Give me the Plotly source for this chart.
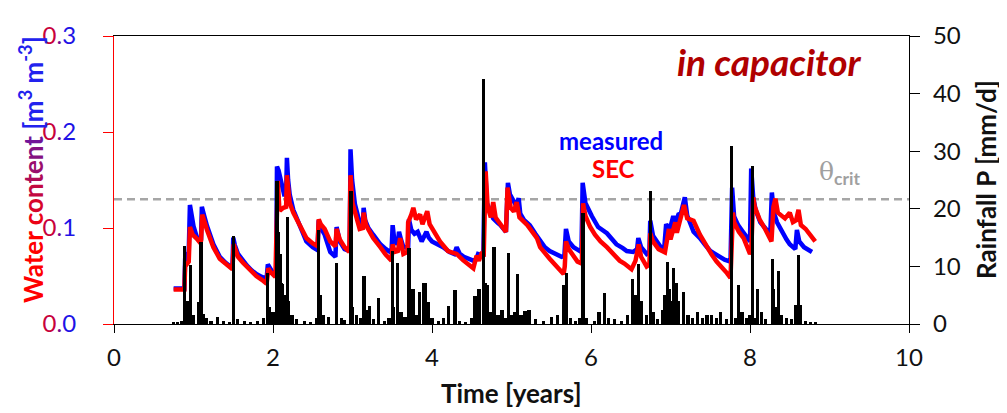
import plotly.graph_objects as go

# ---------------- data ----------------
theta_crit = 0.13

t_meas = [0.75, 0.885, 0.895, 0.94, 0.955, 0.975, 1.00, 1.04, 1.08, 1.095, 1.105, 1.13, 1.17, 1.25, 1.33, 1.40, 1.49,
          1.50, 1.52, 1.56, 1.62, 1.67, 1.73, 1.79, 1.86, 1.92, 1.935, 1.96, 2.00, 2.04, 2.05, 2.07, 2.10, 2.12,
          2.14, 2.165, 2.175, 2.19, 2.21, 2.255, 2.30, 2.34, 2.42, 2.50, 2.56, 2.575, 2.60, 2.65, 2.72, 2.785,
          2.80, 2.84, 2.90, 2.965, 2.975, 2.995, 3.03, 3.07, 3.10, 3.13, 3.14, 3.16, 3.20, 3.26, 3.35, 3.42,
          3.49, 3.505, 3.53, 3.57, 3.585, 3.61, 3.64, 3.70, 3.71, 3.74, 3.78, 3.82, 3.87, 3.93, 3.96, 4.00,
          4.08, 4.14, 4.22, 4.28, 4.31, 4.35, 4.40, 4.46, 4.52, 4.56, 4.58, 4.62, 4.645, 4.665, 4.69, 4.73,
          4.77, 4.83, 4.86, 4.93, 4.955, 4.98, 5.02, 5.06, 5.09, 5.11, 5.16, 5.23, 5.30, 5.36, 5.42, 5.48,
          5.56, 5.63, 5.665, 5.685, 5.72, 5.78, 5.82, 5.88, 5.895, 5.93, 6.01, 6.09, 6.20, 6.26, 6.32, 6.40,
          6.45, 6.53, 6.58, 6.595, 6.63, 6.70, 6.735, 6.745, 6.78, 6.87, 6.92, 6.945, 6.99, 7.035, 7.06, 7.10,
          7.13, 7.18, 7.21, 7.29, 7.37, 7.44, 7.50, 7.56, 7.62, 7.68, 7.755, 7.775, 7.80, 7.85, 7.91, 7.96,
          8.00, 8.015, 8.04, 8.07, 8.13, 8.20, 8.255, 8.275, 8.30, 8.34, 8.40, 8.46, 8.50, 8.57, 8.59, 8.62,
          8.68, 8.78]
theta_meas = [0.037, 0.037, 0.068, 0.075, 0.124, 0.112, 0.102, 0.091, 0.086, 0.088, 0.122, 0.114, 0.102, 0.083, 0.070,
              0.064, 0.058, 0.090, 0.082, 0.073, 0.066, 0.061, 0.056, 0.052, 0.049, 0.047, 0.062, 0.058, 0.053,
              0.051, 0.164, 0.160, 0.150, 0.140, 0.135, 0.135, 0.173, 0.150, 0.135, 0.119, 0.110, 0.103, 0.086,
              0.080, 0.077, 0.108, 0.100, 0.093, 0.075, 0.070, 0.101, 0.086, 0.078, 0.076, 0.182, 0.150, 0.125,
              0.112, 0.103, 0.104, 0.121, 0.108, 0.100, 0.093, 0.083, 0.078, 0.074, 0.103, 0.084, 0.084, 0.096,
              0.088, 0.080, 0.080, 0.109, 0.098, 0.094, 0.096, 0.086, 0.096, 0.090, 0.086, 0.083, 0.080, 0.075,
              0.073, 0.080, 0.073, 0.070, 0.068, 0.066, 0.068, 0.073, 0.072, 0.070, 0.1685, 0.126, 0.118, 0.110,
              0.105, 0.103, 0.096, 0.147, 0.135, 0.128, 0.123, 0.131, 0.115, 0.108, 0.103, 0.094, 0.086, 0.080,
              0.076, 0.073, 0.070, 0.071, 0.099, 0.086, 0.080, 0.078, 0.075, 0.147, 0.126, 0.1125, 0.101, 0.0945,
              0.089, 0.083, 0.079, 0.076, 0.075, 0.078, 0.0895, 0.080, 0.073, 0.075, 0.1076, 0.092, 0.081, 0.078,
              0.104, 0.098, 0.1125, 0.105, 0.114, 0.115, 0.132, 0.113, 0.096, 0.0895, 0.082, 0.076, 0.073, 0.070,
              0.067, 0.065, 0.142, 0.112, 0.103, 0.096, 0.090, 0.086, 0.162, 0.132, 0.119, 0.106, 0.099, 0.093,
              0.137, 0.116, 0.106, 0.096, 0.088, 0.083, 0.078, 0.098, 0.086, 0.080, 0.075]

t_sec = [0.75, 0.885, 0.895, 0.94, 0.955, 0.99, 1.04, 1.08, 1.095, 1.11, 1.17, 1.25, 1.33, 1.40, 1.49, 1.505, 1.56,
         1.62, 1.68, 1.79, 1.86, 1.92, 1.94, 1.97, 2.03, 2.06, 2.08, 2.10, 2.13, 2.165, 2.175, 2.21, 2.255, 2.34,
         2.42, 2.50, 2.56, 2.575, 2.60, 2.65, 2.72, 2.785, 2.80, 2.84, 2.90, 2.96, 2.975, 3.00, 3.05, 3.09, 3.13,
         3.14, 3.17, 3.26, 3.35, 3.42, 3.49, 3.505, 3.53, 3.57, 3.60, 3.64, 3.69, 3.70, 3.74, 3.765, 3.80, 3.85,
         3.88, 3.94, 3.97, 4.02, 4.10, 4.20, 4.29, 4.31, 4.39, 4.45, 4.52, 4.56, 4.59, 4.63, 4.65, 4.675, 4.70,
         4.74, 4.77, 4.80, 4.87, 4.93, 4.95, 4.99, 5.03, 5.065, 5.10, 5.20, 5.32, 5.36, 5.48, 5.55, 5.61, 5.655,
         5.67, 5.685, 5.72, 5.78, 5.83, 5.885, 5.90, 5.93, 5.99, 6.05, 6.12, 6.20, 6.28, 6.36, 6.42, 6.51, 6.56,
         6.60, 6.63, 6.70, 6.735, 6.745, 6.78, 6.85, 6.93, 6.96, 6.98, 7.00, 7.04, 7.06, 7.08, 7.12, 7.17, 7.21,
         7.29, 7.37, 7.455, 7.52, 7.58, 7.64, 7.71, 7.755, 7.785, 7.80, 7.86, 7.92, 7.96, 8.00, 8.015, 8.04, 8.06,
         8.12, 8.19, 8.27, 8.295, 8.32, 8.35, 8.40, 8.44, 8.50, 8.54, 8.58, 8.61, 8.64, 8.70, 8.82]
theta_sec = [0.036, 0.036, 0.060, 0.065, 0.101, 0.093, 0.089, 0.085, 0.087, 0.114, 0.098, 0.080, 0.068, 0.063, 0.057,
             0.083, 0.070, 0.064, 0.059, 0.050, 0.046, 0.042, 0.058, 0.054, 0.049, 0.149, 0.120, 0.119, 0.121,
             0.122, 0.155, 0.126, 0.116, 0.103, 0.0895, 0.084, 0.081, 0.109, 0.104, 0.099, 0.086, 0.081, 0.099,
             0.088, 0.080, 0.075, 0.155, 0.126, 0.111, 0.099, 0.100, 0.116, 0.103, 0.0895, 0.080, 0.072, 0.066,
             0.083, 0.075, 0.076, 0.0895, 0.073, 0.075, 0.106, 0.114, 0.121, 0.109, 0.114, 0.104, 0.1175, 0.104,
             0.097, 0.086, 0.076, 0.073, 0.073, 0.0665, 0.062, 0.058, 0.071, 0.066, 0.075, 0.070, 0.159, 0.122,
             0.111, 0.127, 0.111, 0.103, 0.096, 0.142, 0.121, 0.117, 0.127, 0.111, 0.103, 0.0895, 0.080, 0.068,
             0.061, 0.055, 0.052, 0.060, 0.086, 0.078, 0.070, 0.065, 0.063, 0.1257, 0.1125, 0.101, 0.093, 0.086,
             0.080, 0.073, 0.066, 0.063, 0.057, 0.066, 0.083, 0.070, 0.060, 0.062, 0.0945, 0.086, 0.078, 0.0747,
             0.0895, 0.099, 0.088, 0.100, 0.106, 0.095, 0.110, 0.124, 0.110, 0.1076, 0.093, 0.080, 0.072, 0.065,
             0.060, 0.053, 0.048, 0.116, 0.106, 0.096, 0.0895, 0.080, 0.073, 0.075, 0.132, 0.122, 0.109, 0.099,
             0.086, 0.122, 0.1306, 0.116, 0.1125, 0.110, 0.116, 0.106, 0.108, 0.119, 0.103, 0.099, 0.086]

rain_t = [0.75, 0.80, 0.85, 0.89, 0.92, 0.965, 1.00, 1.06, 1.094, 1.12, 1.16, 1.22, 1.30, 1.38, 1.45, 1.50, 1.55,
          1.64, 1.72, 1.80, 1.88, 1.93, 1.96, 2.00, 2.05, 2.07, 2.09, 2.10, 2.12, 2.14, 2.16, 2.18, 2.20, 2.24,
          2.30, 2.40, 2.47, 2.55, 2.57, 2.60, 2.64, 2.70, 2.80, 2.86, 2.90, 2.98, 3.00, 3.05, 3.10, 3.145, 3.17,
          3.21, 3.26, 3.33, 3.40, 3.46, 3.50, 3.52, 3.57, 3.61, 3.66, 3.71, 3.76, 3.80, 3.84, 3.90, 3.92, 3.95,
          4.00, 4.08, 4.14, 4.21, 4.29, 4.35, 4.42, 4.50, 4.54, 4.59, 4.645, 4.67, 4.70, 4.74, 4.78, 4.83, 4.88,
          4.92, 4.96, 5.00, 5.04, 5.08, 5.12, 5.17, 5.22, 5.30, 5.40, 5.50, 5.58, 5.66, 5.69, 5.74, 5.80, 5.86,
          5.90, 5.94, 6.04, 6.10, 6.17, 6.22, 6.30, 6.38, 6.46, 6.52, 6.56, 6.60, 6.64, 6.70, 6.75, 6.79, 6.84,
          6.90, 6.93, 6.96, 6.99, 7.02, 7.04, 7.07, 7.10, 7.16, 7.22, 7.28, 7.34, 7.40, 7.46, 7.52, 7.58, 7.63,
          7.70, 7.77, 7.82, 7.86, 7.90, 7.96, 8.00, 8.03, 8.06, 8.09, 8.14, 8.20, 8.28, 8.30, 8.33, 8.36, 8.40,
          8.46, 8.52, 8.57, 8.61, 8.64, 8.70, 8.76, 8.82]
rain_mm = [0.3, 0.2, 0.5, 13.5, 4.0, 10.2, 1.5, 3.9, 14.3, 1.8, 1.0, 0.6, 1.2, 0.6, 0.4, 15.2, 0.8,
           0.6, 0.3, 0.5, 1.0, 8.9, 3.0, 2.0, 24.8, 16.0, 12.2, 7.2, 7.0, 5.0, 3.0, 18.6, 4.0, 1.5,
           0.8, 0.5, 0.3, 1.0, 16.3, 5.0, 1.5, 1.2, 10.6, 1.0, 0.7, 23.1, 3.0, 1.5, 1.0, 8.3, 2.5,
           3.1, 0.8, 4.5, 0.6, 1.0, 12.7, 3.0, 10.6, 2.0, 1.2, 13.2, 6.1, 1.5, 5.6, 7.2, 7.1, 3.9,
           1.0, 0.5, 1.0, 3.1, 5.9, 0.6, 0.4, 1.0, 4.8, 6.0, 42.6, 7.2, 6.7, 2.0, 13.3, 1.5, 2.5,
           1.0, 12.4, 1.5, 2.0, 8.6, 1.5, 2.2, 2.4, 0.8, 0.6, 1.2, 1.5, 6.7, 8.9, 1.0, 0.5, 1.0,
           19.3, 1.0, 0.5, 2.0, 5.3, 1.0, 0.8, 0.6, 1.5, 7.8, 5.0, 10.5, 4.0, 1.5, 23.1, 2.0, 0.8,
           2.5, 5.0, 10.8, 6.0, 4.0, 9.7, 7.2, 4.0, 5.6, 1.5, 1.0, 2.0, 1.0, 1.6, 1.5, 1.0, 2.0,
           0.8, 30.9, 1.0, 6.7, 2.0, 1.0, 1.5, 27.5, 1.0, 6.1, 2.0, 0.8, 11.2, 6.0, 3.0, 9.2, 1.5,
           1.0, 0.8, 3.3, 11.9, 3.3, 0.6, 0.3, 0.2]

x_ticks = [0, 2, 4, 6, 8, 10]
y_ticks = [0.0, 0.1, 0.2, 0.3]
y_tick_labels = ["0.0", "0.1", "0.2", "0.3"]
y2_ticks = [0, 10, 20, 30, 40, 50]

# ---------------- styling helpers ----------------
FONT = "Lato"

def mix(c1, c2, f):
    return "#%02x%02x%02x" % tuple(int(round(a + (b - a) * f)) for a, b in zip(c1, c2))

RED = (220, 0, 40)
BLUE = (20, 20, 240)

def grad_label(s):
    n = len(s)
    out = []
    for i, ch in enumerate(s):
        f = 0.1 + 0.85 * i / max(n - 1, 1)
        out.append('<span style="color:%s">%s</span>' % (mix(RED, BLUE, f), ch))
    return "".join(out)

def grad_title():
    word = "Water content "
    out = []
    for i, ch in enumerate(word):
        f = 0.0 if i < 5 else min(1.0, (i - 5) / 9.0 * 0.85)
        out.append('<span style="color:%s">%s</span>' % (mix((255, 0, 0), (40, 30, 230), f), ch))
    out.append('<span style="color:#2222ee">[m<sup>3</sup> m<sup>-3</sup>]</span>')
    return "".join(out)

fig = go.Figure()

fig.add_trace(go.Scatter(x=[0, 10], y=[theta_crit, theta_crit], mode="lines",
                         line=dict(color="#A6A6A6", width=2.5, dash="8px,5px"),
                         hoverinfo="skip", showlegend=False))
fig.add_trace(go.Scatter(x=t_meas, y=theta_meas, mode="lines", name="measured",
                         line=dict(color="#0000FF", width=4.5), showlegend=False))
fig.add_trace(go.Scatter(x=t_sec, y=theta_sec, mode="lines", name="SEC",
                         line=dict(color="#FF0000", width=4.5), showlegend=False))
fig.add_trace(go.Bar(x=rain_t, y=rain_mm, width=0.04, yaxis="y2", name="Rainfall",
                     marker=dict(color="#000000", line=dict(width=0)), showlegend=False))

TICKFONT = dict(family=FONT, size=24, color="#111111")

fig.update_layout(
    width=999, height=405,
    margin=dict(l=106, r=98, t=12, b=89),
    paper_bgcolor="white", plot_bgcolor="white",
    font=dict(family=FONT, size=22, color="#111111"),
    bargap=0,
    xaxis=dict(range=[0, 10], tickvals=x_ticks, showgrid=False, zeroline=False,
               showline=True, mirror=True, linecolor="#000000", linewidth=1.3,
               ticks="outside", ticklen=8, tickcolor="#000000", tickwidth=1.3,
               tickfont=TICKFONT, ticklabelstandoff=4, ticklabeloverflow="allow"),
    yaxis=dict(range=[0, 0.3], tickvals=y_ticks, ticktext=[grad_label(s) for s in y_tick_labels],
               showgrid=False, zeroline=False, showline=True, linecolor="#FF0000", linewidth=1.3,
               ticks="outside", ticklen=10, tickcolor="#FF0000", tickwidth=1.3,
               tickfont=dict(family=FONT, size=24), ticklabelstandoff=22, ticklabeloverflow="allow"),
    yaxis2=dict(range=[0, 50], tickvals=y2_ticks, overlaying="y", side="right",
                showgrid=False, zeroline=False, showline=True, linecolor="#000000", linewidth=1.3,
                ticks="outside", ticklen=10, tickcolor="#000000", tickwidth=1.3,
                tickfont=TICKFONT, ticklabelstandoff=8, ticklabeloverflow="allow"),
    annotations=[
        dict(text="<b>Time [years]</b>", x=0.5, y=-0.24, xref="paper", yref="paper",
             showarrow=False, font=dict(family=FONT, size=26, color="#111111"),
             xanchor="center", yanchor="middle"),
        dict(text="<b>" + grad_title() + "</b>", x=-0.103, y=0.535, xref="paper", yref="paper",
             showarrow=False, textangle=-90, font=dict(family=FONT, size=26),
             xanchor="center", yanchor="middle"),
        dict(text="<b>Rainfall P [mm/d]</b>", x=1.097, y=0.5, xref="paper", yref="paper",
             showarrow=False, textangle=-90, font=dict(family=FONT, size=26, color="#111111"),
             xanchor="center", yanchor="middle"),
        dict(text="<b><i>in capacitor</i></b>", x=0.824, y=0.911, xref="paper", yref="paper",
             showarrow=False, font=dict(family=FONT, size=37, color="#B00000"),
             xanchor="center", yanchor="middle"),
        dict(text="<b>measured</b>", x=0.625, y=0.638, xref="paper", yref="paper",
             showarrow=False, font=dict(family=FONT, size=24, color="#0000FF"),
             xanchor="center", yanchor="middle"),
        dict(text="<b>SEC</b>", x=0.628, y=0.539, xref="paper", yref="paper",
             showarrow=False, font=dict(family=FONT, size=24, color="#FF0000"),
             xanchor="center", yanchor="middle"),
        dict(text='<span style="font-family:DejaVu Serif">θ</span><sub><b>crit</b></sub>',
             x=0.912, y=0.523, xref="paper", yref="paper",
             showarrow=False, font=dict(family=FONT, size=25, color="#A0A0A0"),
             xanchor="center", yanchor="middle"),
    ],
)

fig.write_html("out.html")
